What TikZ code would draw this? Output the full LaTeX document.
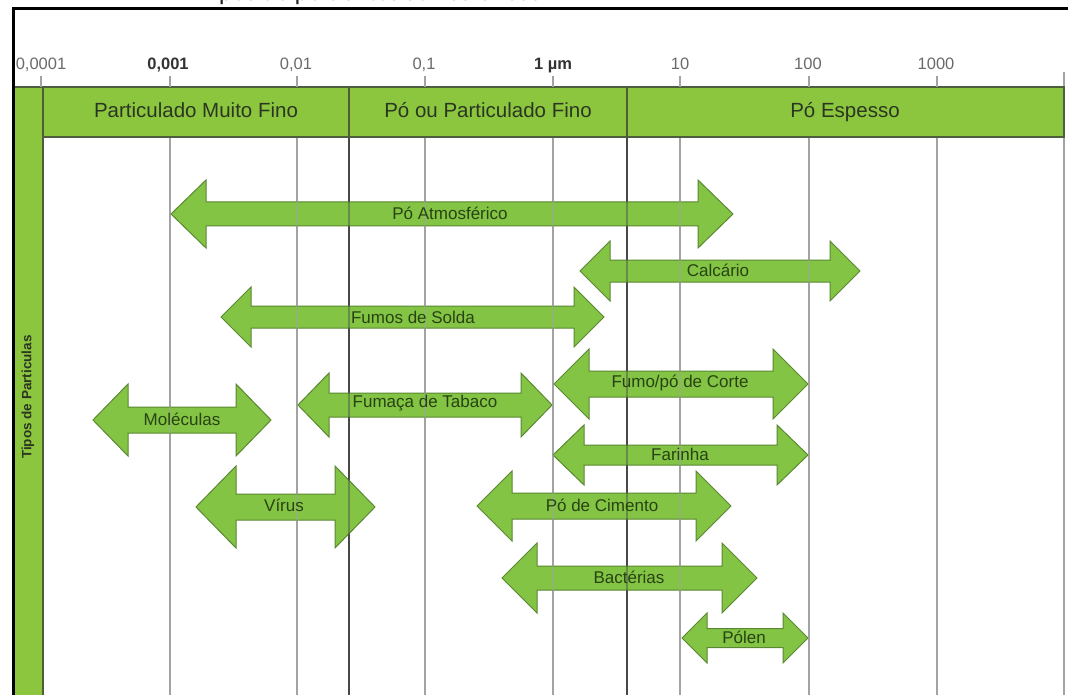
\documentclass[tikz,border=0pt]{standalone}
\usepackage{fontspec}
\setmainfont{Liberation Sans}
\newfontfamily\headingfont{Carlito}

\definecolor{bandgreen}{HTML}{8CC63F}
\definecolor{banddark}{HTML}{4E5E3C}
\definecolor{arrowgreen}{HTML}{84C444}
\definecolor{arrowedge}{HTML}{5A8832}
\definecolor{arrowtext}{HTML}{284313}
\definecolor{labeldark}{HTML}{2B3622}
\definecolor{gridgray}{HTML}{A3A3A3}
\definecolor{bounddark}{HTML}{484848}
\definecolor{axisgray}{HTML}{6A6A6A}

% double-headed block arrow: xl, xr, y, shaft half-height, head half-height, head length
\newcommand\partarrow[6]{%
  \path[particle] (#1,#3) -- (#1+#6,#3-#5) -- (#1+#6,#3-#4) -- (#2-#6,#3-#4)
    -- (#2-#6,#3-#5) -- (#2,#3) -- (#2-#6,#3+#5) -- (#2-#6,#3+#4)
    -- (#1+#6,#3+#4) -- (#1+#6,#3+#5) -- cycle;}

% vertical reference lines of the size scale
\newcommand\scalelines{%
  \foreach \gx in {170,297,425,553,680,809,937} \draw[grid] (\gx,137) -- (\gx,695);
  \draw[grid] (1064,72) -- (1064,695);
  \foreach \bx in {349,627} \draw[bound] (\bx,137) -- (\bx,695);}

\begin{document}
\begin{tikzpicture}[x=1pt,y=-1pt,
  grid/.style={draw=gridgray, line width=1.4pt},
  bound/.style={draw=bounddark, line width=2.4pt},
  tick/.style={draw=gridgray, line width=1.2pt},
  bandbox/.style={fill=bandgreen, draw=banddark, line width=1.6pt},
  bandlabel/.style={text=labeldark, anchor=base, font=\fontsize{20.5}{24}\selectfont},
  axislabel/.style={text=axisgray, anchor=base, font=\fontsize{16.5}{20}\selectfont},
  axisbold/.style={axislabel, text=black!80, font=\fontsize{16.5}{20}\selectfont\bfseries},
  particle/.style={fill=arrowgreen, draw=arrowedge, line width=1pt, line join=miter},
  particlelabel/.style={text=arrowtext, font=\fontsize{17}{20}\selectfont},
  heading/.style={text=black!85, font=\headingfont\fontsize{26}{30}\selectfont},
]
\useasboundingbox (0,0) rectangle (1068,695);
\fill[white] (0,0) rectangle (1068,695);

% heading above the frame
\node[heading, anchor=base west, inner sep=0pt] (title) at (200,0.5) {Tipos de poluentes atmosféricos};

% scale lines behind the arrows
\scalelines

% particle size ranges
\partarrow{171}{733}{214}{12}{34}{35}
\partarrow{580}{860}{271}{11}{30}{30}
\partarrow{221}{604}{317}{11}{30}{30}
\partarrow{554}{808}{384}{13}{35}{35}
\partarrow{298}{552}{405}{12}{32}{31}
\partarrow{93}{271}{420}{13}{36}{35}
\partarrow{553}{808}{455}{10}{30}{31}
\partarrow{196}{375}{507}{13}{41}{40}
\partarrow{477}{731}{506}{13}{35}{35}
\partarrow{502}{757}{578}{12}{35}{35}
\partarrow{682}{808}{638}{9.5}{25}{25}

% scale lines showing through the arrows
\begin{scope}[draw opacity=0.45]
  \scalelines
\end{scope}

% range labels
\node[particlelabel] (atm) at (450,213) {Pó Atmosférico};
\node[particlelabel] (calc) at (718,270) {Calcário};
\node[particlelabel] (solda) at (413,317) {Fumos de Solda};
\node[particlelabel] (corte) at (680,383) {Fumo/pó de Corte};
\node[particlelabel] (tabaco) at (425,403) {Fumaça de Tabaco};
\node[particlelabel] (molec) at (182,419) {Moléculas};
\node[particlelabel] (farinha) at (680,454) {Farinha};
\node[particlelabel] (virus) at (284,505) {Vírus};
\node[particlelabel] (cimento) at (602,505) {Pó de Cimento};
\node[particlelabel] (bact) at (629,577) {Bactérias};
\node[particlelabel] (polen) at (744,637) {Pólen};

% size classes
\draw[bandbox] (13,87) rectangle (43,700);
\draw[bandbox] (43,87) rectangle (349,137);
\draw[bandbox] (349,87) rectangle (627,137);
\draw[bandbox] (627,87) rectangle (1064,137);
\node[bandlabel] (mfino) at (196,118) {Particulado Muito Fino};
\node[bandlabel] (fino) at (488,118) {Pó ou Particulado Fino};
\node[bandlabel] (espesso) at (845,118) {Pó Espesso};
\node[text=labeldark, rotate=90, font=\fontsize{13.5}{16}\selectfont\bfseries] (tipos) at (28,397) {Tipos de Particulas};

% size axis
\foreach \tx in {41,170,297,425,553,680,809,937} \draw[tick] (\tx,76) -- (\tx,87);
\node[axislabel] (s0) at (41,70) {0,0001};
\node[axisbold] (s1) at (168,70) {0,001};
\node[axislabel] (s2) at (296,70) {0,01};
\node[axislabel] (s3) at (424,70) {0,1};
\node[axisbold] (s4) at (553,70) {1 µm};
\node[axislabel] (s5) at (680,70) {10};
\node[axislabel] (s6) at (808,70) {100};
\node[axislabel] (s7) at (936,70) {1000};

% frame
\draw[black, line width=3pt] (13,700) -- (13,8.5) -- (1070,8.5);
\end{tikzpicture}
\end{document}
